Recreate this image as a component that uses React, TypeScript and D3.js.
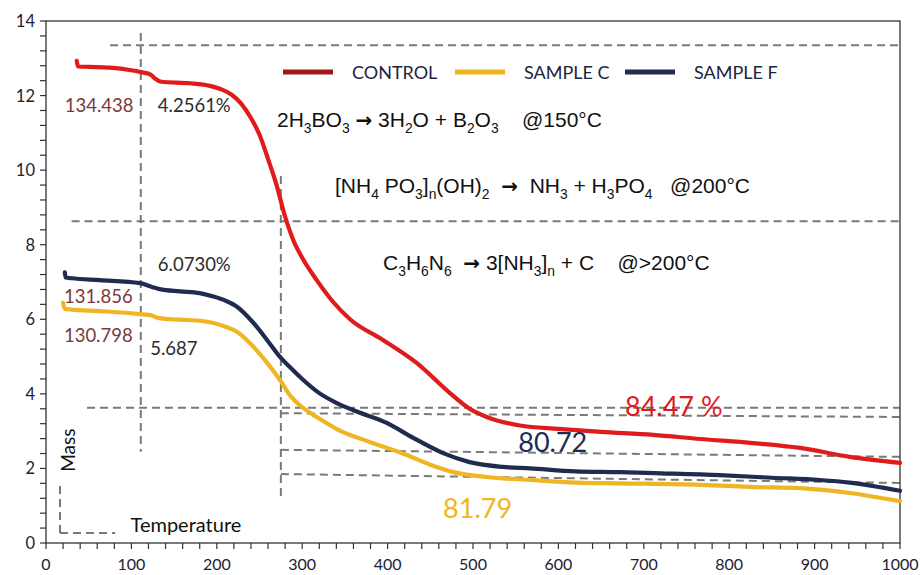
import React from 'react';
import * as d3 from 'd3';

// temperature (°C) / mass readings per sample
const controlTemp = [36, 37.5, 50, 75, 100, 111, 122, 128, 135, 169, 192, 205, 217, 228, 240, 250, 260, 270, 280, 290, 300, 317, 336, 356, 395, 434, 473, 496, 516, 555, 600, 650, 711, 766, 828, 883, 941, 1000];
const controlMass = [12.93, 12.78, 12.77, 12.75, 12.68, 12.63, 12.57, 12.45, 12.37, 12.33, 12.26, 12.17, 12.03, 11.8, 11.4, 10.95, 10.3, 9.6, 8.75, 8.1, 7.65, 7.05, 6.47, 6.0, 5.44, 4.83, 4.02, 3.6, 3.38, 3.15, 3.06, 2.98, 2.9, 2.79, 2.68, 2.55, 2.31, 2.15];

const sampleFTemp = [22, 23, 30, 63, 110, 125, 133, 157, 180, 196, 210, 224, 243, 259, 274, 289, 300, 320, 340, 360, 399, 430, 465, 496, 535, 567, 620, 672, 720, 789, 850, 906, 941, 1000];
const sampleFMass = [7.26, 7.12, 7.1, 7.05, 6.97, 6.86, 6.81, 6.75, 6.7, 6.61, 6.5, 6.33, 5.9, 5.44, 4.99, 4.64, 4.4, 4.02, 3.76, 3.56, 3.22, 2.82, 2.41, 2.17, 2.04, 2.0, 1.92, 1.9, 1.87, 1.82, 1.75, 1.69, 1.62, 1.4];

const sampleCTemp = [20, 22, 30, 63, 110, 124, 132, 157, 180, 196, 210, 224, 243, 259, 274, 286, 297, 310, 321, 341, 379, 418, 450, 477, 516, 567, 620, 672, 766, 830, 883, 941, 1000];
const sampleCMass = [6.44, 6.28, 6.26, 6.22, 6.14, 6.1, 6.03, 5.99, 5.96, 5.9, 5.8, 5.66, 5.26, 4.83, 4.37, 3.95, 3.7, 3.48, 3.32, 3.05, 2.71, 2.4, 2.1, 1.9, 1.77, 1.69, 1.62, 1.6, 1.56, 1.5, 1.47, 1.34, 1.12];

const xTicks = [0, 100, 200, 300, 400, 500, 600, 700, 800, 900, 1000];
const yTicks = [0, 2, 4, 6, 8, 10, 12, 14];

const legendNames = ['CONTROL', 'SAMPLE C', 'SAMPLE F'];

// dashed guide segments [t1, m1, t2, m2]
const guides = [
  [75, 13.35, 1000, 13.35],
  [111, 13.68, 111, 2.45],
  [30, 8.63, 1000, 8.63],
  [275, 9.84, 275, 1.23],
  [48, 3.63, 1000, 3.63],
  [275, 3.48, 1000, 3.38],
  [275, 2.5, 1000, 2.31],
  [275, 1.85, 1000, 1.61],
  [16.4, 1.53, 16.4, 0.27],
  [16.4, 0.27, 81, 0.27],
];

const RED = '#e01b1b';
const RED_DARK = '#a11818';
const GOLD = '#efb623';
const NAVY = '#1f2b4f';

const W = 921;
const H = 575;

const x = d3.scaleLinear().domain([0, 1000]).range([46, 900]);
const y = d3.scaleLinear().domain([0, 14]).range([543, 21]);

const line = d3.line<[number, number]>()
  .x(d => x(d[0]))
  .y(d => y(d[1]))
  .curve(d3.curveMonotoneX);

const zip = (a: number[], b: number[]) => a.map((t, i) => [t, b[i]] as [number, number]);

// "_{..}" marks a subscript, "→" gets a heavier font
const Formula: React.FC<{ text: string; px: number; py: number; size: number }> = ({ text, px, py, size }) => {
  const parts = text.split(/(_\{[^}]*\}|→)/).filter(s => s.length);
  let down = false;
  return (
    <text x={px} y={py} fontSize={size} fontFamily="'Liberation Sans', Arial, sans-serif" fill="#111" style={{ whiteSpace: 'pre' }}>
      {parts.map((p, i) => {
        if (p.startsWith('_{')) {
          const dy = down ? 0 : size * 0.3;
          down = true;
          return <tspan key={i} dy={dy} fontSize={size * 0.66}>{p.slice(2, -1)}</tspan>;
        }
        const dy = down ? -size * 0.3 : 0;
        down = false;
        if (p === '→') {
          return <tspan key={i} dy={dy} fontFamily="'DejaVu Sans', sans-serif" fontWeight="bold" fontSize={size * 0.95}>{p}</tspan>;
        }
        return <tspan key={i} dy={dy}>{p}</tspan>;
      })}
    </text>
  );
};

const App: React.FC = () => {
  const series = [
    { name: legendNames[0], color: RED, data: zip(controlTemp, controlMass) },
    { name: legendNames[1], color: GOLD, data: zip(sampleCTemp, sampleCMass) },
    { name: legendNames[2], color: NAVY, data: zip(sampleFTemp, sampleFMass) },
  ];
  const legendColors = [RED_DARK, GOLD, NAVY];
  const minorX = d3.range(0, 1001, 20);
  const minorY = d3.range(0, 14.01, 0.4);
  const calibri = "Lato, 'Open Sans', sans-serif";

  return (
    <svg width={W} height={H} style={{ position: 'absolute', left: 0, top: 0, background: '#fff' }}>
      {/* guides */}
      {guides.map((g, i) => (
        <line key={i} x1={x(g[0])} y1={y(g[1])} x2={x(g[2])} y2={y(g[3])}
          stroke="#7a7a7a" strokeWidth={2} strokeDasharray="8,5" />
      ))}

      {/* frame */}
      <rect x={x(0)} y={y(14)} width={x(1000) - x(0)} height={y(0) - y(14)} fill="none" stroke="#333" strokeWidth={1.3} />

      {/* ticks */}
      {minorX.map(t => (
        <line key={'mx' + t} x1={x(t)} x2={x(t)} y1={y(0)} y2={y(0) + 6} stroke="#333" strokeWidth={1.2} />
      ))}
      {minorY.map(t => (
        <line key={'my' + t} x1={x(0) - 6} x2={x(0)} y1={y(t)} y2={y(t)} stroke="#333" strokeWidth={1.2} />
      ))}
      {xTicks.map(t => (
        <text key={'xt' + t} x={x(t)} y={570} textAnchor="middle" fontSize={16} fontFamily={calibri} fill="#1c2233">{t}</text>
      ))}
      {yTicks.map(t => (
        <text key={'yt' + t} x={35} y={y(t) + 6} textAnchor="end" fontSize={16.5} fontFamily={calibri} fill="#1c2233">{t}</text>
      ))}

      {/* curves */}
      {series.map(s => (
        <path key={s.name} d={line(s.data) ?? ''} fill="none" stroke={s.color} strokeWidth={4.2} strokeLinecap="round" strokeLinejoin="round" />
      ))}

      {/* legend */}
      {series.map((s, i) => {
        const lx = [283, 455, 625][i];
        return (
          <g key={'lg' + s.name}>
            <line x1={lx} x2={lx + 50} y1={72} y2={72} stroke={legendColors[i]} strokeWidth={5} />
            <text x={lx + 69} y={79} fontSize={18} fontFamily={calibri} fill="#1c2540">{s.name}</text>
          </g>
        );
      })}

      {/* reactions */}
      <Formula text={'2H_{3}BO_{3} → 3H_{2}O + B_{2}O_{3}    @150°C'} px={277} py={127} size={21} />
      <Formula text={'[NH_{4} PO_{3}]_{n}(OH)_{2}  →  NH_{3} + H_{3}PO_{4}   @200°C'} px={335} py={193} size={21} />
      <Formula text={'C_{3}H_{6}N_{6}  → 3[NH_{3}]_{n} + C    @>200°C'} px={383} py={270} size={21} />

      {/* annotations */}
      <g fontFamily={calibri} fontSize={18.5}>
        <text x={x(22)} y={y(11.55)} fill="#7b3a3a">134.438</text>
        <text x={x(131)} y={y(11.55)} fill="#2b2b2b">4.2561%</text>
        <text x={x(131)} y={y(7.3)} fill="#2b2b2b">6.0730%</text>
        <text x={x(21)} y={y(6.44)} fill="#7b3a3a">131.856</text>
        <text x={x(21)} y={y(5.39)} fill="#7b3a3a">130.798</text>
        <text x={x(122)} y={y(5.04)} fill="#2b2b2b">5.687</text>
      </g>
      <g fontFamily={calibri} fontSize={27}>
        <text x={x(678)} y={y(3.4)} fill={RED}>84.47 %</text>
        <text x={x(553)} y={y(2.44)} fill={NAVY}>80.72</text>
        <text x={x(465)} y={y(0.68)} fill={GOLD}>81.79</text>
      </g>
      <text transform={`translate(${x(34)},${y(2.49)}) rotate(-90)`} textAnchor="middle" fontSize={19} fontFamily={calibri} fill="#111">Mass</text>
      <text x={x(99)} y={y(0.3)} fontSize={20} fontFamily={calibri} fill="#111">Temperature</text>
    </svg>
  );
};

export default App;
